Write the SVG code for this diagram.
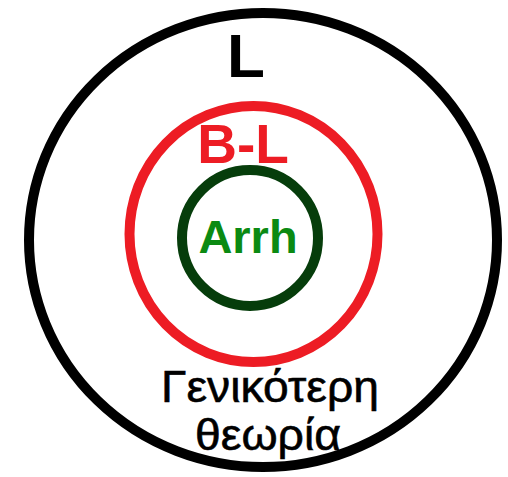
<svg xmlns="http://www.w3.org/2000/svg" width="508" height="477" viewBox="0 0 508 477">
<style>
.ring{fill:none;stroke-width:10}
.lbl{font-family:"Liberation Sans",Arial,sans-serif;font-weight:bold;text-anchor:middle}
.gr{font-family:"Liberation Sans",Arial,sans-serif;font-size:45px;text-anchor:middle;fill:#000;stroke:#000;stroke-width:0.6}
</style>
<rect width="508" height="477" fill="#fff"/>
<g id="outer">
<ellipse class="ring" cx="263" cy="240" rx="234" ry="227" stroke="#000"/>
<text class="lbl" x="246" y="77" font-size="62" fill="#000">L</text>
</g>
<g id="middle">
<ellipse class="ring" cx="253.5" cy="234" rx="124" ry="128" stroke="#ed1c24"/>
<text class="lbl" x="243" y="163" font-size="55" fill="#ed1c24">B-L</text>
</g>
<g id="inner">
<ellipse class="ring" cx="250" cy="238" rx="68" ry="68" stroke="#063d0b"/>
<text class="lbl" x="248" y="253" font-size="47" fill="#0b8a12">Arrh</text>
</g>
<g id="caption">
<text class="gr" x="270" y="402" textLength="218" lengthAdjust="spacingAndGlyphs">Γενικότερη</text>
<text class="gr" x="268" y="450" textLength="146" lengthAdjust="spacingAndGlyphs">θεωρία</text>
</g>
</svg>
